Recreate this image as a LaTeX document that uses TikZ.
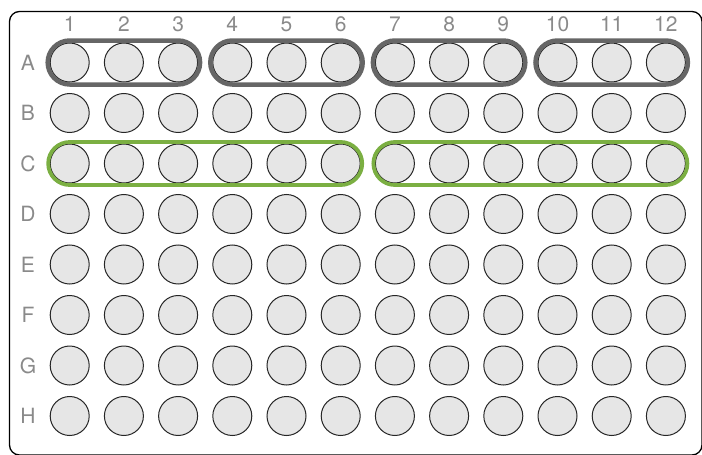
\documentclass[tikz,border=0pt]{standalone}
\usepackage{fontspec}
\setmainfont{TeX Gyre Heros}
\usetikzlibrary{fit}
\definecolor{wellfill}{HTML}{E6E6E6}
\definecolor{labelgray}{HTML}{8A8A8A}
\definecolor{groupgray}{HTML}{666666}
\definecolor{groupgreen}{HTML}{7BAF42}
\tikzstyle{well}=[circle, draw=black!85, fill=wellfill, line width=1pt,
                  minimum size=39pt, inner sep=0pt, outer sep=0pt]
\tikzstyle{lbl}=[text=labelgray, font=\fontsize{21}{24}\selectfont, anchor=base, inner sep=0pt]
\tikzstyle{grpgray}=[draw=groupgray, line width=4.5pt, rounded corners=22pt, inner sep=2.5pt]
\tikzstyle{grpgreen}=[draw=groupgreen, line width=3.8pt, rounded corners=21.5pt, inner sep=2pt]

\begin{document}
\begin{tikzpicture}[x=1pt, y=-1pt]
  \useasboundingbox (0,0) rectangle (702,455);
  \clip (0,0) rectangle (702,455);
  % Plate
  \draw[line width=1.3pt, rounded corners=10pt] (9.5,11.5) rectangle (702,455);

  % Column numbers
  \foreach \c in {1,...,12}{
    \node[lbl] (col\c) at ({69.7+(\c-1)*54.2},31) {\c};
  }
  % Row letters and wells
  \foreach \r [count=\i from 0] in {A,B,C,D,E,F,G,H}{
    \node[lbl] (row\r) at (28,{70+\i*50.5}) {\r};
    \foreach \c in {1,...,12}{
      \node[well] (\r\c) at ({69.7+(\c-1)*54.2},{62.5+\i*50.5}) {};
    }
  }

  % Groups
  \foreach \a/\b in {1/3,4/6,7/9,10/12}{
    \node[grpgray, fit=(A\a)(A\b)] (grpA\a) {};
  }
  \node[grpgreen, fit=(C1)(C6)] (grpC1) {};
  \node[grpgreen, fit=(C7)(C12)] (grpC7) {};
\end{tikzpicture}
\end{document}
